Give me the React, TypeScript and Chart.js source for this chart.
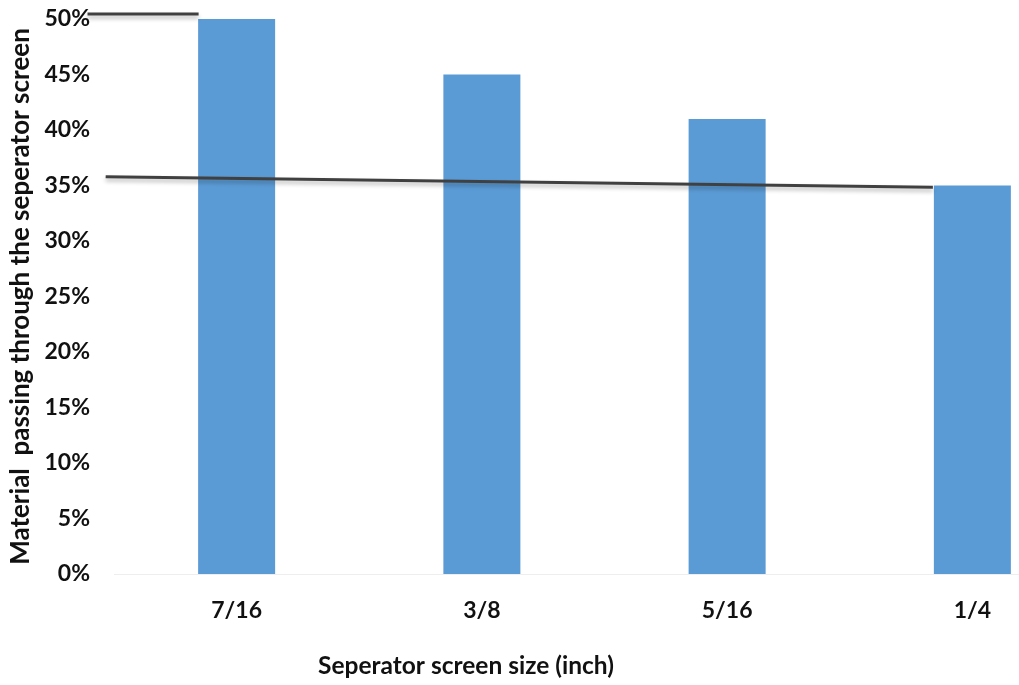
import { useEffect, useRef } from "react";
import { Chart, registerables } from "chart.js";

Chart.register(...registerables);

// Screen sizes (inch) and share of material passing each screen
const categories = ["7/16", "3/8", "5/16", "1/4"];
const passingShare = [0.5, 0.45, 0.41, 0.35];

// Drawn guide lines, positions on a category-index axis (0 = first bar centre)
const topMarkX = [-0.608, -0.155];
const topMarkY = [0.5045, 0.5045];
const trendX = [-0.534, 2.839];
const trendY = [0.3579, 0.3484];

const yTitle = "Material  passing through the seperator screen";
const xTitle = "Seperator screen size (inch)";

const FONT = "Lato, 'Open Sans', sans-serif";
const INK = "#111111";
const BAR_BLUE = "#5b9bd5";
const LINE_GREY = "#404040";

const lineShadow = {
  id: "lineShadow",
  beforeDatasetDraw(chart: any, args: any) {
    if (args.meta.type === "line") {
      const c = chart.ctx;
      c.save();
      c.shadowColor = "rgba(0,0,0,0.28)";
      c.shadowBlur = 4;
      c.shadowOffsetY = 3;
    }
  },
  afterDatasetDraw(chart: any, args: any) {
    if (args.meta.type === "line") chart.ctx.restore();
  },
};

const xCaption = {
  id: "xCaption",
  afterDraw(chart: any) {
    const { ctx, chartArea } = chart;
    ctx.save();
    ctx.font = `bold 24.5px ${FONT}`;
    ctx.fillStyle = INK;
    ctx.textAlign = "center";
    ctx.textBaseline = "alphabetic";
    ctx.fillText(xTitle, chartArea.left + 352, chartArea.bottom + 100);
    ctx.restore();
  },
};

export default function App() {
  const ref = useRef<HTMLCanvasElement | null>(null);

  useEffect(() => {
    const canvas = ref.current;
    if (!canvas) return;
    document.body.style.margin = "0";

    const chart = new Chart(canvas, {
      type: "bar",
      data: {
        labels: categories,
        datasets: [
          {
            type: "line" as const,
            data: topMarkX.map((x, i) => ({ x, y: topMarkY[i] })),
            xAxisID: "xl",
            borderColor: LINE_GREY,
            borderWidth: 3,
            pointRadius: 0,
            clip: false as any,
            order: 0,
          },
          {
            type: "line" as const,
            data: trendX.map((x, i) => ({ x, y: trendY[i] })),
            xAxisID: "xl",
            borderColor: LINE_GREY,
            borderWidth: 3,
            pointRadius: 0,
            clip: false as any,
            order: 0,
          },
          {
            type: "bar" as const,
            data: passingShare,
            xAxisID: "x",
            backgroundColor: BAR_BLUE,
            borderWidth: 0,
            grouped: false,
            barPercentage: 0.314,
            categoryPercentage: 1,
            order: 1,
          },
        ] as any,
      },
      options: {
        responsive: false,
        animation: false,
        layout: { padding: { top: 0, right: 5, bottom: 0, left: 0 } },
        plugins: {
          legend: { display: false },
          tooltip: { enabled: false },
        },
        scales: {
          x: {
            type: "category",
            position: "bottom",
            offset: true,
            grid: { display: false, drawTicks: false },
            border: { display: true, color: "#eeeeee", width: 1 },
            ticks: {
              padding: 23,
              color: INK,
              font: { family: FONT, size: 23, weight: "bold" },
            },
            afterFit(scale: any) {
              scale.height = 111;
            },
          },
          xl: {
            type: "linear",
            position: "bottom",
            display: false,
            offset: false,
            grid: { offset: false },
            min: -0.5,
            max: 3.5,
          },
          y: {
            min: 0,
            max: 0.5,
            grid: { display: false, drawTicks: false },
            border: { display: false },
            ticks: {
              stepSize: 0.05,
              padding: 24,
              color: INK,
              font: { family: FONT, size: 23, weight: "bold" },
              callback: (v: any) => `${Math.round(Number(v) * 100)}%`,
            },
            title: {
              display: true,
              text: yTitle,
              color: INK,
              padding: { top: 5, bottom: 0 },
              font: { family: FONT, size: 26, weight: "bold" },
            },
            afterFit(scale: any) {
              scale.width = 114;
              scale.paddingTop = 19;
              scale.paddingBottom = 0;
            },
          },
        },
      } as any,
      plugins: [lineShadow, xCaption],
    });

    let alive = true;
    document.fonts?.load(`bold 24px Lato`).then(() => {
      if (alive) chart.update();
    });

    return () => {
      alive = false;
      chart.destroy();
    };
  }, []);

  return (
    <div
      style={{
        position: "fixed",
        left: 0,
        top: 0,
        width: 1019,
        height: 685,
        overflow: "hidden",
        background: "#ffffff",
      }}
    >
      <canvas ref={ref} width={1100} height={685} style={{ display: "block", width: 1100, height: 685 }} />
    </div>
  );
}
